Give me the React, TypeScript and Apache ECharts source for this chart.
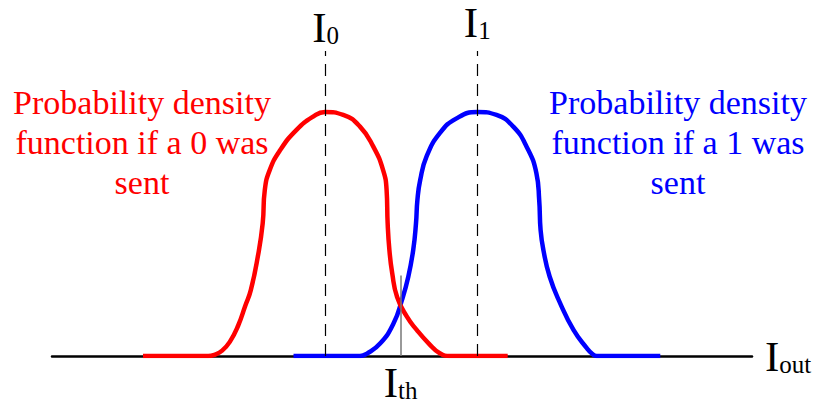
import React, { useEffect, useRef } from "react";
import * as echarts from "echarts";

// x: output current (arbitrary units, axis spans 0..100); y: probability density (peak = 1)
const redX = [13.0, 22.3, 23.3, 24.3, 25.4, 26.6, 27.6, 28.4, 29.4, 30.1, 30.4, 31.1, 32.6, 34.9, 37.3, 39.0, 41.6, 44.0, 45.9, 47.3, 47.8, 47.95, 48.2, 48.6, 49.3, 50.7, 52.1, 53.8, 55.4, 56.9, 65.1];
const redY = [0, 0, 0.006, 0.022, 0.058, 0.125, 0.205, 0.27, 0.407, 0.544, 0.68, 0.762, 0.844, 0.926, 0.981, 1.0, 0.988, 0.94, 0.858, 0.762, 0.68, 0.544, 0.434, 0.34, 0.242, 0.161, 0.107, 0.052, 0.011, 0, 0];
const blueX = [34.5, 44.0, 45.0, 46.9, 48.8, 50.0, 50.9, 51.6, 52.0, 52.2, 52.6, 53.5, 55.4, 57.8, 60.8, 63.5, 65.9, 67.8, 69.2, 69.6, 69.8, 70.2, 71.1, 72.6, 74.5, 76.4, 77.2, 77.8, 86.9];
const blueY = [0, 0, 0.01, 0.052, 0.134, 0.23, 0.325, 0.434, 0.544, 0.639, 0.721, 0.817, 0.913, 0.974, 1.0, 0.988, 0.94, 0.858, 0.749, 0.639, 0.516, 0.434, 0.325, 0.216, 0.107, 0.032, 0.008, 0, 0];

const I0 = 39.1;
const I1 = 60.75;
const Ith = 49.8;
const dashTop = 1.25;
const ithTop = 0.33;

const redLines = ["Probability density", "function if a 0 was", "sent"];
const blueLines = ["Probability density", "function if a 1 was", "sent"];

const SERIF = "Liberation Serif";

const richSub = (sub: number) => ({
  a: { fontSize: 43, fontFamily: SERIF, color: "#000", verticalAlign: "bottom" as const },
  b: { fontSize: 25, fontFamily: SERIF, color: "#000", verticalAlign: "bottom" as const, padding: [0, 0, sub, 0] },
});

export default function App() {
  const ref = useRef<HTMLDivElement>(null);
  useEffect(() => {
    if (!ref.current) return;
    const chart = echarts.init(ref.current, undefined, { renderer: "svg" });
    const red = redX.map((x, i) => [x, redY[i]]);
    const blue = blueX.map((x, i) => [x, blueY[i]]);
    const para = (lines: string[], x: number, color: string) => ({
      text: lines.map((l) => `{p|${l}}`).join("\n"),
      left: x,
      top: 82,
      padding: 0,
      textAlign: "center",
      textStyle: {
        color,
        fontSize: 34,
        fontWeight: "normal",
        fontFamily: SERIF,
        lineHeight: 40,
        rich: {
          p: { color, fontSize: 34, fontFamily: SERIF, lineHeight: 40, align: "center" },
        },
      },
    });
    chart.setOption({
      animation: false,
      backgroundColor: "#fff",
      title: [para(redLines, 142, "#ff0000"), para(blueLines, 678, "#0000ff")],
      grid: { left: 52, right: 67, top: 38.8, bottom: 47 },
      xAxis: {
        type: "value",
        min: 0,
        max: 100,
        axisLine: { show: true, onZero: false, lineStyle: { color: "#000", width: 2.5 } },
        axisTick: { show: false },
        axisLabel: { show: false },
        splitLine: { show: false },
        name: "{a|I}{b|out}",
        nameLocation: "end",
        nameGap: 13,
        nameTextStyle: { rich: richSub(1) },
      },
      yAxis: {
        type: "value",
        min: 0,
        max: 1.3,
        show: false,
      },
      series: [
        {
          type: "line",
          data: blue,
          showSymbol: false,
          smooth: 0.5,
          lineStyle: { color: "#0000ff", width: 4.5 },
          z: 3,
        },
        {
          type: "line",
          data: red,
          showSymbol: false,
          smooth: 0.5,
          lineStyle: { color: "#ff0000", width: 4.5 },
          z: 4,
        },
        {
          type: "line",
          data: [],
          z: 6,
          markLine: {
            silent: true,
            symbol: "none",
            animation: false,
            data: [
              [
                {
                  coord: [I0, 0],
                  lineStyle: { color: "#000", width: 1.2, type: [12, 8] },
                  label: { show: true, position: "end", distance: 2, formatter: "{a|I}{b|0}", rich: richSub(1) },
                },
                { coord: [I0, dashTop] },
              ],
              [
                {
                  coord: [I1, 0],
                  lineStyle: { color: "#000", width: 1.2, type: [12, 8] },
                  label: { show: true, position: "end", distance: 7, formatter: "{a|I}{b|1}", rich: richSub(1) },
                },
                { coord: [I1, dashTop] },
              ],
              [
                {
                  coord: [Ith, 0],
                  lineStyle: { color: "#777", width: 1.5, type: "solid" },
                  label: { show: true, position: "start", distance: 5, formatter: "{a|I}{b|th}", rich: richSub(1) },
                },
                { coord: [Ith, ithTop] },
              ],
            ],
          },
        },
      ],
    });
    return () => chart.dispose();
  }, []);
  return <div ref={ref} style={{ position: "fixed", left: 0, top: 0, width: 819, height: 403 }} />;
}
